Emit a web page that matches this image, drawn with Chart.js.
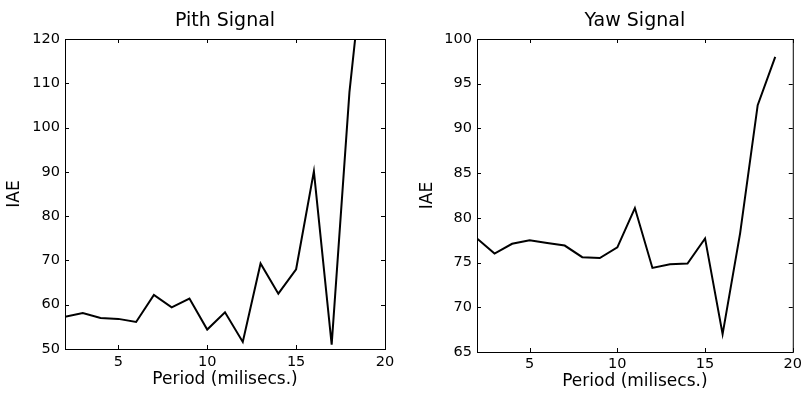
<!DOCTYPE html>
<html>
<head>
<meta charset="utf-8">
<script src="https://cdn.jsdelivr.net/npm/chart.js@4/dist/chart.umd.min.js"></script>
<style>
  html, body { margin: 0; padding: 0; background: #fff; }
  .panel { position: absolute; top: 0; width: 403px; height: 393px; }
</style>
</head>
<body>
<div class="panel" style="left:0"><canvas id="pitchChart" width="403" height="393"></canvas></div>
<div class="panel" style="left:403px"><canvas id="yawChart" width="403" height="393"></canvas></div>
<script>
// Dados
const periods = [2, 3, 4, 5, 6, 7, 8, 9, 10, 11, 12, 13, 14, 15, 16, 17, 18, 19];
const pitchIAE = [57.3, 58.1, 57.0, 56.8, 56.1, 62.2, 59.4, 61.4, 54.4, 58.3, 51.6, 69.3, 62.5, 68.0, 90.1, 51.0, 108.0, 145.5];
const yawIAE = [77.7, 76.0, 77.1, 77.5, 77.2, 76.9, 75.6, 75.5, 76.7, 81.1, 74.4, 74.8, 74.9, 77.7, 67.0, 78.3, 92.6, 98.0];
const xTicks = [5, 10, 15, 20];

const FONT = '"DejaVu Sans", Verdana, sans-serif';

// Caixa e marcas de escala para dentro (estilo MATLAB)
const boxTicks = {
  id: 'boxTicks',
  afterDatasetsDraw(chart) {
    const { ctx, chartArea: a, scales: { x, y } } = chart;
    const len = 4;
    ctx.save();
    ctx.strokeStyle = '#000';
    ctx.lineWidth = 1;
    ctx.strokeRect(a.left + 0.5, a.top + 0.5, a.right - a.left, a.bottom - a.top);
    ctx.beginPath();
    x.ticks.forEach(t => {
      const px = Math.round(x.getPixelForValue(t.value)) + 0.5;
      ctx.moveTo(px, a.bottom); ctx.lineTo(px, a.bottom - len);
      ctx.moveTo(px, a.top); ctx.lineTo(px, a.top + len);
    });
    y.ticks.forEach(t => {
      const py = Math.round(y.getPixelForValue(t.value)) + 0.5;
      ctx.moveTo(a.left, py); ctx.lineTo(a.left + len, py);
      ctx.moveTo(a.right, py); ctx.lineTo(a.right - len, py);
    });
    ctx.stroke();
    ctx.restore();
  }
};

function makeChart(id, title, values, yMin, yMax, yStep, opt) {
  return new Chart(document.getElementById(id), {
    type: 'line',
    data: {
      datasets: [{
        data: periods.map((p, i) => ({ x: p, y: values[i] })),
        borderColor: '#000',
        borderWidth: 2,
        pointRadius: 0,
        tension: 0,
        fill: false
      }]
    },
    options: {
      responsive: false,
      animation: false,
      layout: { padding: { left: 0, right: opt.padRight, top: 0, bottom: 0 } },
      plugins: {
        legend: { display: false },
        tooltip: { enabled: false },
        title: {
          display: true,
          text: title,
          color: '#000',
          fullSize: false,
          font: { family: FONT, size: 19, weight: 'normal' },
          padding: { top: 9.5, bottom: 6.7 }
        }
      },
      scales: {
        x: {
          type: 'linear',
          min: 2,
          max: 20,
          grid: { display: false, drawTicks: false },
          border: { display: false },
          afterBuildTicks: s => { s.ticks = xTicks.map(v => ({ value: v })); },
          afterFit: s => { s.height = opt.xHeight; },
          ticks: { color: '#000', font: { family: FONT, size: 14.5 }, padding: opt.xPad, maxRotation: 0 },
          title: {
            display: true,
            text: 'Period (milisecs.)',
            color: '#000',
            font: { family: FONT, size: 17 },
            padding: { top: 0, bottom: opt.xTitlePad }
          }
        },
        y: {
          min: yMin,
          max: yMax,
          grid: { display: false, drawTicks: false },
          border: { display: false },
          afterFit: s => { s.width = opt.yWidth; },
          ticks: { stepSize: yStep, color: '#000', font: { family: FONT, size: 14.5 }, padding: 5 },
          title: {
            display: true,
            text: 'IAE',
            color: '#000',
            font: { family: FONT, size: 17 },
            padding: { top: opt.yTitlePad, bottom: 0 }
          }
        }
      }
    },
    plugins: [boxTicks]
  });
}

const pitchChart = makeChart('pitchChart', 'Pith Signal', pitchIAE, 50, 120, 10,
  { padRight: 18, xHeight: 44, yWidth: 65, xPad: 5, xTitlePad: 3, yTitlePad: 4.3 });
const yawChart = makeChart('yawChart', 'Yaw Signal', yawIAE, 65, 100, 5,
  { padRight: 11, xHeight: 41, yWidth: 74, xPad: 4, xTitlePad: 1.5, yTitlePad: 14.8 });
</script>
</body>
</html>
